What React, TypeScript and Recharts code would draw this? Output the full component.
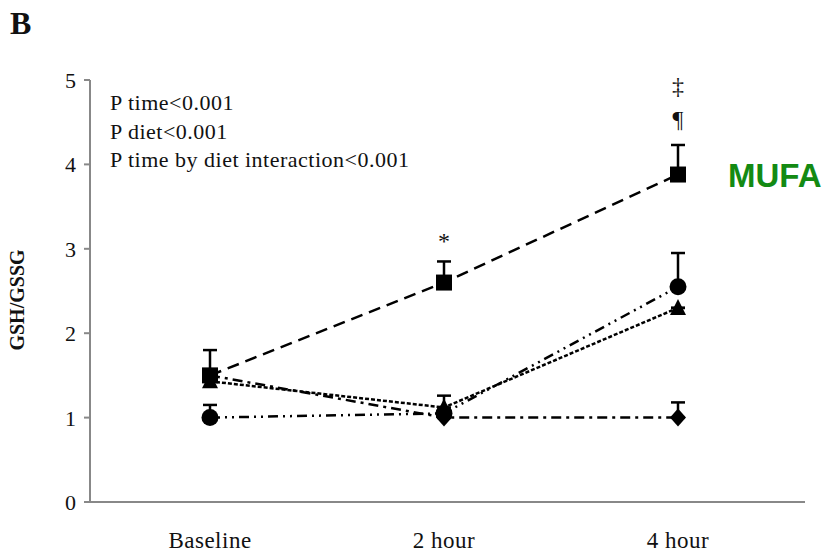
import React from 'react';
import { LineChart, Line, XAxis, YAxis, ErrorBar, ReferenceDot } from 'recharts';

const categories = ['Baseline', '2 hour', '4 hour'];
const mufa = [1.5, 2.6, 3.88];
const mufaErr = [0.3, 0.25, 0.35];
const circleSeries = [1.0, 1.05, 2.55];
const circleErr = [0.15, 0, 0.4];
const triangleSeries = [1.43, 1.12, 2.3];
const triangleErr = [0, 0.14, 0];
const diamondSeries = [1.5, 1.0, 1.0];
const diamondErr = [0, 0, 0.18];
const yTicks = [0, 1, 2, 3, 4, 5];
const pTexts = ['P time<0.001', 'P diet<0.001', 'P time by diet interaction<0.001'];
const annotations = [
  { x: '2 hour', y: 3.1, text: '*' },
  { x: '4 hour', y: 4.55, text: '¶' },
  { x: '4 hour', y: 4.93, text: '‡' },
];

const data = categories.map((c, i) => ({
  cat: c,
  mufa: mufa[i],
  mufaE: [0, mufaErr[i]],
  circ: circleSeries[i],
  circE: [0, circleErr[i]],
  tri: triangleSeries[i],
  triE: [0, triangleErr[i]],
  dia: diamondSeries[i],
  diaE: [0, diamondErr[i]],
}));

const SERIF = '"Liberation Serif", "Times New Roman", serif';

const SquareDot = (p: any) => (
  <rect key={`s${p.index}`} x={p.cx - 8} y={p.cy - 8} width={16} height={16} fill="#000" />
);
const CircleDot = (p: any) => (
  <circle key={`c${p.index}`} cx={p.cx} cy={p.cy} r={8.5} fill="#000" />
);
const TriDot = (p: any) => (
  <path key={`t${p.index}`} d={`M${p.cx},${p.cy - 9} L${p.cx + 8},${p.cy + 7} L${p.cx - 8},${p.cy + 7} Z`} fill="#000" />
);
const DiaDot = (p: any) => (
  <path key={`d${p.index}`} d={`M${p.cx},${p.cy - 9} L${p.cx + 8},${p.cy} L${p.cx},${p.cy + 9} L${p.cx - 8},${p.cy} Z`} fill="#000" />
);

const XTick = (props: any) => {
  const { x, y, payload } = props;
  return (
    <text x={x} y={y} dy={38} textAnchor="middle" fontFamily={SERIF} fontSize={23} letterSpacing={0.5} fill="#111">
      {payload.value}
    </text>
  );
};

const YTick = (props: any) => {
  const { x, y, payload } = props;
  return (
    <text x={x} y={y} dx={-6} dy={8} textAnchor="end" fontFamily={SERIF} fontSize={22} fill="#111">
      {payload.value}
    </text>
  );
};

export default function App() {
  return (
    <div style={{ position: 'absolute', left: 0, top: 0, width: 830, height: 553, background: '#fff' }}>
      <div style={{ position: 'absolute', left: 10, top: 5, fontFamily: SERIF, fontWeight: 'bold', fontSize: 32, color: '#111' }}>B</div>
      <div style={{ position: 'absolute', left: 110, top: 89, fontFamily: SERIF, fontSize: 22, letterSpacing: 0.5, lineHeight: '28.5px', color: '#111' }}>
        {pTexts.map((t) => (
          <div key={t}>{t}</div>
        ))}
      </div>
      <LineChart width={830} height={553} data={data} margin={{ top: 80, right: 25, bottom: 0, left: 0 }}>
        <XAxis
          dataKey="cat"
          height={51}
          padding={{ left: 120, right: 127 }}
          tickLine={false}
          tick={<XTick />}
          stroke="#888"
          strokeWidth={2}
        />
        <YAxis
          width={90}
          domain={[0, 5]}
          ticks={yTicks}
          tickSize={6}
          tick={<YTick />}
          stroke="#888"
          strokeWidth={2}
          label={(lp: any) => (
            <text
              x={24}
              y={300}
              transform="rotate(-90, 24, 300)"
              textAnchor="middle"
              fontFamily={SERIF}
              fontWeight="bold"
              fontSize={20}
              fill="#111"
            >
              GSH/GSSG
            </text>
          )}
        />
        <Line
          dataKey="dia"
          stroke="#000"
          strokeWidth={2.5}
          strokeDasharray="10 5 3 5"
          dot={DiaDot}
          isAnimationActive={false}
        >
          <ErrorBar dataKey="diaE" width={7} stroke="#000" strokeWidth={2.5} direction="y" />
        </Line>
        <Line
          dataKey="tri"
          stroke="#000"
          strokeWidth={2.5}
          strokeDasharray="4 2"
          dot={TriDot}
          isAnimationActive={false}
        >
          <ErrorBar dataKey="triE" width={7} stroke="#000" strokeWidth={2.5} direction="y" />
        </Line>
        <Line
          dataKey="circ"
          stroke="#000"
          strokeWidth={2.5}
          strokeDasharray="10 5 2 5 2 5"
          dot={CircleDot}
          isAnimationActive={false}
        >
          <ErrorBar dataKey="circE" width={7} stroke="#000" strokeWidth={2.5} direction="y" />
        </Line>
        <Line
          dataKey="mufa"
          stroke="#000"
          strokeWidth={2.5}
          strokeDasharray="12 7"
          dot={SquareDot}
          isAnimationActive={false}
        >
          <ErrorBar dataKey="mufaE" width={7} stroke="#000" strokeWidth={2.5} direction="y" />
        </Line>
        {annotations.map((a) => (
          <ReferenceDot
            key={a.text}
            x={a.x}
            y={a.y}
            r={0}
            ifOverflow="visible"
            label={{ value: a.text, position: 'center', fontFamily: SERIF, fontSize: 24, fill: '#111' }}
          />
        ))}
        <ReferenceDot
          x="4 hour"
          y={mufa[2]}
          r={0}
          ifOverflow="visible"
          label={(lp: any) => (
            <text
              x={lp.viewBox.x + 50}
              y={lp.viewBox.y + 12}
              fontFamily='"Liberation Sans", Arial, sans-serif'
              fontWeight="bold"
              fontSize={33}
              fill="#138a13"
            >
              MUFA
            </text>
          )}
        />
      </LineChart>
    </div>
  );
}
